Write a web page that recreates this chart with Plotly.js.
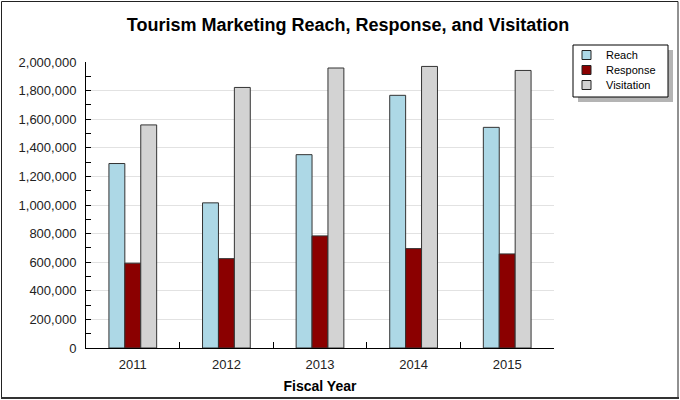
<!DOCTYPE html>
<html>
<head>
<meta charset="utf-8">
<script src="https://cdn.plot.ly/plotly-3.0.1.min.js"></script>
<style>
  html, body { margin: 0; padding: 0; background: #fff; }
  #chart { width: 680px; height: 400px; }
</style>
</head>
<body>
<div id="chart"></div>
<script>
const years = ['2011', '2012', '2013', '2014', '2015'];
const reach = [1290000, 1015000, 1352000, 1767000, 1543000];
const response = [593000, 625000, 784000, 695000, 658000];
const visitation = [1560000, 1822000, 1958000, 1969000, 1941000];
const seriesNames = ['Reach', 'Response', 'Visitation'];
const seriesColors = ['#add8e6', '#8b0000', '#d3d3d3'];
const seriesValues = [reach, response, visitation];

const W = 680, H = 400;
const mL = 86, mR = 126, mT = 62, mB = 52;
const pw = W - mL - mR, ph = H - mT - mB;
const px = x => (x - mL) / pw;
const py = y => (H - mB - y) / ph;

const traces = seriesNames.map((name, i) => ({
  type: 'bar',
  name: name,
  x: years,
  y: seriesValues[i],
  marker: { color: seriesColors[i], line: { color: '#333333', width: 1 } },
  hoverinfo: 'x+y+name'
}));

// Custom legend (box with drop shadow), built from the series names/colours
const legBox = { x0: 573, x1: 668, y0: 45, y1: 97 };
const legShapes = [
  { type: 'rect', xref: 'paper', yref: 'paper', layer: 'above',
    x0: px(legBox.x0 + 5), x1: px(legBox.x1 + 5), y0: py(legBox.y0 + 5), y1: py(legBox.y1 + 5),
    fillcolor: '#b4b4b4', line: { width: 0 } },
  { type: 'rect', xref: 'paper', yref: 'paper', layer: 'above',
    x0: px(legBox.x0), x1: px(legBox.x1), y0: py(legBox.y0), y1: py(legBox.y1),
    fillcolor: '#ffffff', line: { color: '#000000', width: 1 } }
];
const legAnnots = [];
seriesNames.forEach((name, i) => {
  const cy = 55 + i * 15;
  legShapes.push({ type: 'rect', xref: 'paper', yref: 'paper', layer: 'above',
    x0: px(582), x1: px(591), y0: py(cy - 4.5), y1: py(cy + 4.5),
    fillcolor: seriesColors[i], line: { color: '#222222', width: 1 } });
  legAnnots.push({ xref: 'paper', yref: 'paper', x: px(604), y: py(cy),
    xanchor: 'left', yanchor: 'middle', showarrow: false, text: name,
    font: { family: 'Liberation Sans, Arial, sans-serif', size: 11, color: '#000000' } });
});

const layout = {
  width: W, height: H,
  margin: { l: mL, r: mR, t: mT, b: mB },
  paper_bgcolor: '#ffffff',
  plot_bgcolor: '#ffffff',
  font: { family: 'Liberation Sans, Arial, sans-serif', size: 13, color: '#222222' },
  title: {
    text: '<b>Tourism Marketing Reach, Response, and Visitation</b>',
    font: { family: 'Liberation Sans, Arial, sans-serif', size: 18, color: '#000000' },
    xref: 'container', yref: 'container',
    x: 348 / W, xanchor: 'center',
    y: 1 - 25 / H, yanchor: 'middle'
  },
  barmode: 'group',
  bargap: 0.49,
  bargroupgap: 0,
  showlegend: false,
  xaxis: {
    type: 'category',
    showline: true, linecolor: '#000000', linewidth: 1,
    ticks: 'inside', tickson: 'boundaries', ticklen: 6, tickcolor: '#000000',
    showgrid: false, zeroline: false,
    tickfont: { size: 13, color: '#222222' },
    ticklabelstandoff: 4,
    title: { text: '<b>Fiscal Year</b>', font: { size: 14, color: '#000000' }, standoff: 10 },
    fixedrange: true
  },
  yaxis: {
    range: [0, 2000000],
    dtick: 200000,
    tickformat: ',d',
    showline: true, linecolor: '#000000', linewidth: 1,
    ticks: 'inside', ticklen: 5, tickcolor: '#000000',
    minor: { dtick: 100000, ticks: 'inside', ticklen: 5, tickcolor: '#000000', showgrid: false },
    showgrid: true, gridcolor: '#e2e2e2', gridwidth: 1,
    zeroline: false,
    tickfont: { size: 13, color: '#222222' },
    ticklabelstandoff: 6,
    fixedrange: true
  },
  annotations: legAnnots,
  shapes: legShapes.concat([
    { type: 'rect', xref: 'paper', yref: 'paper', layer: 'above',
      x0: px(1.5), x1: px(678), y0: py(1.5), y1: py(397.5),
      line: { color: '#222222', width: 1 } },
    { type: 'line', xref: 'paper', yref: 'paper', layer: 'above',
      x0: px(1), x1: px(679), y0: py(398), y1: py(398),
      line: { color: '#333333', width: 2 } }
  ])
};

Plotly.newPlot('chart', traces, layout, { displayModeBar: false, staticPlot: true });
</script>
</body>
</html>
